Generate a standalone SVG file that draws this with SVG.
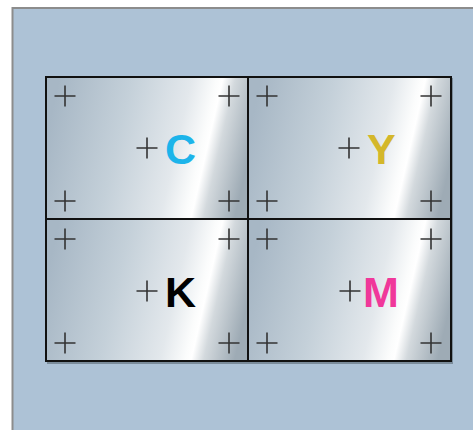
<svg xmlns="http://www.w3.org/2000/svg" xmlns:xlink="http://www.w3.org/1999/xlink" width="473" height="430" viewBox="0 0 473 430">
<style>
.plate{stroke:#111;stroke-width:2}
.cross{stroke:#333;stroke-width:1.6;fill:none}
.lbl{font-family:"Liberation Sans",Arial,sans-serif;font-weight:bold;font-size:43px}
</style>
<defs>
<linearGradient id="metal" x1="0" y1="0.42" x2="1" y2="0.58">
<stop offset="0" stop-color="#a7b7c5"/>
<stop offset="0.35" stop-color="#c4d0d9"/>
<stop offset="0.64" stop-color="#e3e8ec"/>
<stop offset="0.76" stop-color="#fbfcfc"/>
<stop offset="0.79" stop-color="#ffffff"/>
<stop offset="0.85" stop-color="#d3d9dd"/>
<stop offset="1" stop-color="#9eabb5"/>
</linearGradient>
<path id="x" class="cross" d="M-10.5 0H10.5M0 -10.5V10.5"/>
</defs>
<rect x="12.5" y="8" width="470" height="430" fill="#adc2d6" stroke="#8c8c8c" stroke-width="2"/>
<rect x="47" y="78" width="406" height="286" fill="#4a5560" opacity="0.5"/>
<g id="plate-C">
<rect class="plate" x="46" y="77" width="202" height="142" fill="url(#metal)"/>
<use xlink:href="#x" x="65" y="96"/><use xlink:href="#x" x="229" y="96"/>
<use xlink:href="#x" x="65" y="201"/><use xlink:href="#x" x="229" y="201"/>
<use xlink:href="#x" x="147" y="148"/>
<text class="lbl" x="165" y="164" fill="#1cb4ea">C</text>
</g>
<g id="plate-Y">
<rect class="plate" x="248" y="77" width="203" height="142" fill="url(#metal)"/>
<use xlink:href="#x" x="267" y="96"/><use xlink:href="#x" x="431" y="96"/>
<use xlink:href="#x" x="267" y="201"/><use xlink:href="#x" x="431" y="201"/>
<use xlink:href="#x" x="349" y="148"/>
<text class="lbl" x="367" y="164" fill="#d4b72a">Y</text>
</g>
<g id="plate-K">
<rect class="plate" x="46" y="219" width="202" height="142" fill="url(#metal)"/>
<use xlink:href="#x" x="65" y="239"/><use xlink:href="#x" x="229" y="239"/>
<use xlink:href="#x" x="65" y="343"/><use xlink:href="#x" x="229" y="343"/>
<use xlink:href="#x" x="147" y="291"/>
<text class="lbl" x="165" y="307" fill="#000">K</text>
</g>
<g id="plate-M">
<rect class="plate" x="248" y="219" width="203" height="142" fill="url(#metal)"/>
<use xlink:href="#x" x="267" y="239"/><use xlink:href="#x" x="431" y="239"/>
<use xlink:href="#x" x="267" y="343"/><use xlink:href="#x" x="431" y="343"/>
<use xlink:href="#x" x="350" y="291"/>
<text class="lbl" x="363" y="307" fill="#f0389a">M</text>
</g>
</svg>
